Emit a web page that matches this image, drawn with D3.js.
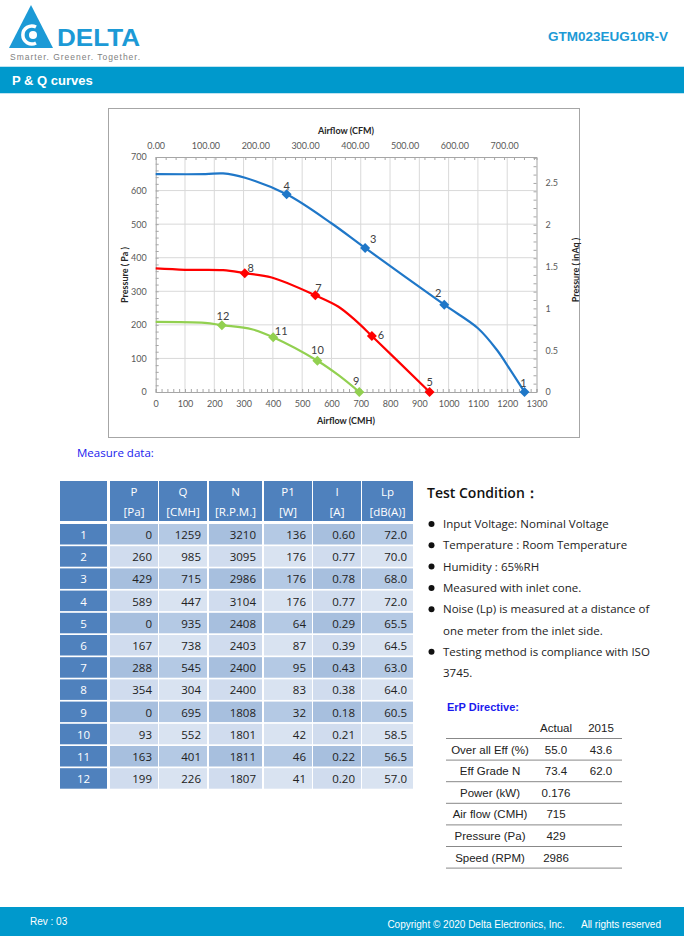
<!DOCTYPE html>
<html><head><meta charset="utf-8">
<script src="https://cdn.jsdelivr.net/npm/d3@7"></script>
<style>body{margin:0;background:#fff}svg{display:block}</style>
</head><body><div id="c"></div>
<script>
// ---------- DATA ----------
const pointIds   = [1,2,3,4,5,6,7,8,9,10,11,12];
const pressurePa = [0,260,429,589,0,167,288,354,0,93,163,199];
const airflowCMH = [1259,985,715,447,935,738,545,304,695,552,401,226];
const speedRPM   = [3210,3095,2986,3104,2408,2403,2400,2400,1808,1801,1811,1807];
const powerW     = [136,176,176,176,64,87,95,83,32,42,46,41];
const currentA   = [0.60,0.77,0.78,0.77,0.29,0.39,0.43,0.38,0.18,0.21,0.22,0.20];
const noiseDBA   = [72.0,70.0,68.0,72.0,65.5,64.5,63.0,64.0,60.5,58.5,56.5,57.0];

// curve shapes (Q in CMH, P in Pa)
const blueCurveQ  = [0,170,230,305,447,601,715,985,1100,1165,1211,1259];
const blueCurveP  = [649,649,651,638,589,502,429,260,190,125,65,0];
const redCurveQ   = [0,100,230,304,396,545,624,681,738,935];
const redCurveP   = [368,364,363,354,341,288,254,214,167,0];
const greenCurveQ = [0,168,226,328,401,552,624,695];
const greenCurveP = [209,206,199,187,163,93,50,0];
const curvePointGroups = [[0,1,2,3],[4,5,6,7],[8,9,10,11]];

const xTicksCMH   = d3.range(0,1301,100);
const yTicksPa    = d3.range(0,701,100);
const topTicksCFM = [0,100,200,300,400,500,600,700];
const rightTicksInAq = [0,0.5,1,1.5,2,2.5];

const tableHead1 = ["P","Q","N","P1","I","Lp"];
const tableHead2 = ["[Pa]","[CMH]","[R.P.M.]","[W]","[A]","[dB(A)]"];

const conditionLines = [
  ["Input Voltage: Nominal Voltage"],
  ["Temperature : Room Temperature"],
  ["Humidity : 65%RH"],
  ["Measured with inlet cone."],
  ["Noise (Lp) is measured at a distance of","one meter from the inlet side."],
  ["Testing method is compliance with ISO","3745."]
];
const erpHeader = ["","Actual","2015"];
const erpLabels = ["Over all Eff (%)","Eff Grade N","Power (kW)","Air flow (CMH)","Pressure (Pa)","Speed (RPM)"];
const erpActual = ["55.0","73.4","0.176","715","429","2986"];
const erp2015   = ["43.6","62.0","","","",""];

// ---------- DRAW ----------
const W=684,H=936;
const svg=d3.select("#c").append("svg").attr("width",W).attr("height",H);
const BLUE="#0099cc";

// header logo
const logo=svg.append("g");
logo.append("path").attr("d","M9,48 L31,5 L53,48 Z").attr("fill","#1c9ad6");
logo.append("path").attr("d","M36,27 A9,9 0 1 0 36,43").attr("fill","none").attr("stroke","#fff").attr("stroke-width",3.5);
logo.append("circle").attr("cx",33).attr("cy",35).attr("r",4).attr("fill","#fff");
logo.append("text").attr("x",57).attr("y",46).attr("font-family","Liberation Sans, Arial").attr("font-weight","bold")
  .attr("font-size",24).attr("fill","#1c9ad6").attr("textLength",83).attr("lengthAdjust","spacingAndGlyphs").text("DELTA");
logo.append("text").attr("x",10).attr("y",60).attr("font-family","Liberation Sans, Arial")
  .attr("font-size",8.5).attr("fill","#808080").attr("textLength",130).attr("lengthAdjust","spacing").text("Smarter.  Greener.  Together.");
svg.append("text").attr("x",668).attr("y",41).attr("text-anchor","end").attr("font-family","Liberation Sans, Arial")
  .attr("font-weight","bold").attr("font-size",13.5).attr("fill","#1c9ad6").text("GTM023EUG10R-V");

// banner
svg.append("rect").attr("x",0).attr("y",66).attr("width",W).attr("height",28).attr("fill","#bfe3f1");
svg.append("rect").attr("x",0).attr("y",67).attr("width",W).attr("height",26).attr("fill",BLUE);
svg.append("text").attr("x",12).attr("y",85).attr("font-family","Liberation Sans, Arial").attr("font-weight","bold")
  .attr("font-size",13).attr("fill","#fff").text("P & Q curves");

// footer
svg.append("rect").attr("x",0).attr("y",907).attr("width",W).attr("height",29).attr("fill",BLUE);
svg.append("text").attr("x",30).attr("y",925).attr("font-family","Liberation Sans, Arial").attr("font-size",10)
  .attr("fill","#fff").text("Rev : 03");
svg.append("text").attr("x",661).attr("y",928).attr("text-anchor","end").attr("font-family","Liberation Sans, Arial").attr("font-size",10)
  .attr("fill","#fff").attr("xml:space","preserve").text("Copyright \u00a9 2020 Delta Electronics, Inc.      All rights reserved");

// ---------- chart ----------
const CF="Lato, 'Open Sans', sans-serif";
svg.append("rect").attr("x",108.5).attr("y",108.5).attr("width",471).attr("height",329)
  .attr("fill","#fff").attr("stroke","#a6a6a6");
const x=d3.scaleLinear([0,1300],[155.7,536.5]);
const y=d3.scaleLinear([0,700],[392,157]);
const CMH_PER_CFM=1.69901, PA_PER_INAQ=249.089;
const xTop=d3.scaleLinear([0,1300/CMH_PER_CFM],[155.7,536.5]);
const yR=d3.scaleLinear([0,700/PA_PER_INAQ],[392,157]);

const ch=svg.append("g");
// grid
ch.append("g").selectAll("line").data(xTicksCMH.filter(d=>d>0&&d<1300)).join("line")
  .attr("x1",d=>x(d)).attr("x2",d=>x(d)).attr("y1",y(0)).attr("y2",y(700)).attr("stroke","#d9d9d9");
ch.append("g").selectAll("line").data(yTicksPa.filter(d=>d>0&&d<700)).join("line")
  .attr("x1",x(0)).attr("x2",x(1300)).attr("y1",d=>y(d)).attr("y2",d=>y(d)).attr("stroke","#d9d9d9");

function styleAxis(g){
  g.select(".domain").attr("stroke","#a6a6a6");
  g.selectAll(".tick line").attr("stroke","#a6a6a6");
  g.selectAll("text").attr("font-family",CF).attr("font-size",9).attr("fill","#595959");
}
// minor ticks
ch.append("g").attr("transform",`translate(0,${y(0)})`).call(d3.axisBottom(x).tickValues(d3.range(0,1301,20)).tickSize(-3).tickFormat(""))
  .call(styleAxis);
ch.append("g").attr("transform",`translate(0,${y(700)})`).call(d3.axisTop(xTop).tickValues(d3.range(0,761,20)).tickSize(-3).tickFormat(""))
  .call(styleAxis);
ch.append("g").attr("transform",`translate(${x(0)},0)`).call(d3.axisLeft(y).tickValues(d3.range(0,701,20)).tickSize(-3).tickFormat(""))
  .call(styleAxis);
ch.append("g").attr("transform",`translate(${x(1300)},0)`).call(d3.axisRight(yR).tickValues(d3.range(0,2.81,0.1)).tickSize(-3).tickFormat(""))
  .call(styleAxis);
// labels
ch.append("g").attr("transform",`translate(0,${y(0)})`).call(d3.axisBottom(x).tickValues(xTicksCMH).tickSize(0).tickPadding(9).tickFormat(d3.format("d")))
  .call(styleAxis).call(g=>g.select(".domain").remove());
ch.append("g").attr("transform",`translate(0,${y(700)})`).call(d3.axisTop(xTop).tickValues(topTicksCFM).tickSize(0).tickPadding(8).tickFormat(d3.format(".2f")))
  .call(styleAxis).call(g=>g.select(".domain").remove());
ch.append("g").attr("transform",`translate(${x(0)},0)`).call(d3.axisLeft(y).tickValues(yTicksPa).tickSize(0).tickPadding(9).tickFormat(d3.format("d")))
  .call(styleAxis).call(g=>g.select(".domain").remove());
ch.append("g").attr("transform",`translate(${x(1300)},0)`).call(d3.axisRight(yR).tickValues(rightTicksInAq).tickSize(0).tickPadding(9).tickFormat(d=>String(d)))
  .call(styleAxis).call(g=>g.select(".domain").remove());

// axis titles
const tt=(t,xx,yy,rot)=>ch.append("text").attr("transform",`translate(${xx},${yy}) rotate(${rot})`).attr("text-anchor","middle")
  .attr("dominant-baseline","central").attr("font-family",CF).attr("font-weight","bold").attr("font-size",9).attr("fill","#262626").text(t);
tt("Airflow (CFM)",346,130,0);
tt("Airflow (CMH)",346,420,0);
tt("Pressure ( Pa )",124,275,-90);
tt("Pressure ( inAq )",575,270,-90);

// curves
const line=d3.line().x(d=>x(d[0])).y(d=>y(d[1])).curve(d3.curveCatmullRom.alpha(0.5));
const curves=[
  {q:blueCurveQ,p:blueCurveP,c:"#1f77c8"},
  {q:redCurveQ,p:redCurveP,c:"#ff0000"},
  {q:greenCurveQ,p:greenCurveP,c:"#92d050"}];
curves.forEach(cv=>{
  ch.append("path").attr("d",line(d3.zip(cv.q,cv.p))).attr("fill","none").attr("stroke",cv.c).attr("stroke-width",2.2);
});
const labelOffsets={1:[-1,-10],2:[-6,-12],3:[8,-9],4:[0,-9],5:[0,-11],6:[9,-1],7:[3,-8],8:[6,-6],9:[-3,-12],10:[0,-11],11:[8,-7],12:[1,-10]};
curvePointGroups.forEach((grp,gi)=>{
  grp.forEach(i=>{
    const cx=x(airflowCMH[i]), cy=y(pressurePa[i]);
    ch.append("path").attr("d",`M${cx},${cy-5}L${cx+5},${cy}L${cx},${cy+5}L${cx-5},${cy}Z`).attr("fill",curves[gi].c);
    const o=labelOffsets[pointIds[i]];
    ch.append("text").attr("x",cx+o[0]).attr("y",cy+o[1]).attr("text-anchor","middle").attr("dominant-baseline","central")
      .attr("font-family",CF).attr("font-size",11).attr("fill","#404040").text(pointIds[i]);
  });
});

// ---------- Measure data table ----------
const TF="'Open Sans', 'Noto Sans', sans-serif";
svg.append("text").attr("x",77).attr("y",457).attr("font-family",TF).attr("font-size",11.5).attr("fill","#1a1aee").text("Measure data:");
const colX=[60,110,159,209,264,313,362], colR=[107,158,207,262,312,361,413];
const tb=svg.append("g");
// header
colX.forEach((cx,ci)=>{
  tb.append("rect").attr("x",cx).attr("y",481).attr("width",colR[ci]-cx).attr("height",40).attr("fill","#4f81bd");
  if(ci>0){
    const mx=(cx+colR[ci])/2;
    tb.append("text").attr("x",mx).attr("y",496).attr("text-anchor","middle").attr("font-family",TF).attr("font-size",11.5).attr("fill","#fff").text(tableHead1[ci-1]);
    tb.append("text").attr("x",mx).attr("y",516).attr("text-anchor","middle").attr("font-family",TF).attr("font-size",11.5).attr("fill","#fff").text(tableHead2[ci-1]);
  }
});
const cols=[pressurePa,airflowCMH,speedRPM,powerW,currentA.map(v=>v.toFixed(2)),noiseDBA.map(v=>v.toFixed(1))];
pointIds.forEach((id,ri)=>{
  const ty=524+ri*22.2, odd=ri%2===0;
  colX.forEach((cx,ci)=>{
    let fill;
    if(ci===0) fill="#4f81bd";
    else if(odd) fill=(ci%2===1)?"#a7bfde":"#b4c9e4";
    else fill=(ci%2===1)?"#d0dcee":"#d9e3f1";
    tb.append("rect").attr("x",cx).attr("y",ty).attr("width",colR[ci]-cx).attr("height",20.5).attr("fill",fill);
    if(ci===0){
      tb.append("text").attr("x",(cx+colR[ci])/2).attr("y",ty+15).attr("text-anchor","middle").attr("font-family",TF).attr("font-size",11.5).attr("fill","#fff").text(id);
    } else {
      tb.append("text").attr("x",colR[ci]-6).attr("y",ty+15).attr("text-anchor","end").attr("font-family",TF).attr("font-size",11.5).attr("fill","#222").text(cols[ci-1][ri]);
    }
  });
});

// ---------- Test condition ----------
svg.append("text").attr("x",427).attr("y",498).attr("font-family",TF).attr("font-weight",600).attr("font-size",14).attr("fill","#111").text("Test Condition\uff1a");
let ly=528;
conditionLines.forEach(lines=>{
  svg.append("circle").attr("cx",431.5).attr("cy",ly-4).attr("r",3).attr("fill","#111");
  lines.forEach(t=>{
    svg.append("text").attr("x",443).attr("y",ly).attr("font-family",TF).attr("font-size",11.5).attr("fill","#222").text(t);
    ly+=21.3;
  });
});

// ---------- ErP ----------
const AF="'Liberation Sans', Arial, sans-serif";
svg.append("text").attr("x",447).attr("y",711).attr("font-family",AF).attr("font-weight","bold").attr("font-size",11).attr("fill","#1a1aee").text("ErP Directive:");
const erpCX=[490,556,601];
erpHeader.forEach((t,i)=>svg.append("text").attr("x",erpCX[i]).attr("y",732).attr("text-anchor","middle").attr("font-family",AF).attr("font-size",11.5).attr("fill","#222").text(t));
erpLabels.forEach((lab,ri)=>{
  const by=738+ri*21.6;
  svg.append("line").attr("x1",446).attr("x2",622).attr("y1",by+0.5).attr("y2",by+0.5).attr("stroke","#888");
  [lab,erpActual[ri],erp2015[ri]].forEach((t,i)=>svg.append("text").attr("x",erpCX[i]).attr("y",by+15.5).attr("text-anchor","middle")
    .attr("font-family",AF).attr("font-size",11.5).attr("fill","#222").text(t));
});
svg.append("line").attr("x1",446).attr("x2",622).attr("y1",738+6*21.6+0.5).attr("y2",738+6*21.6+0.5).attr("stroke","#888");
</script></body></html>
